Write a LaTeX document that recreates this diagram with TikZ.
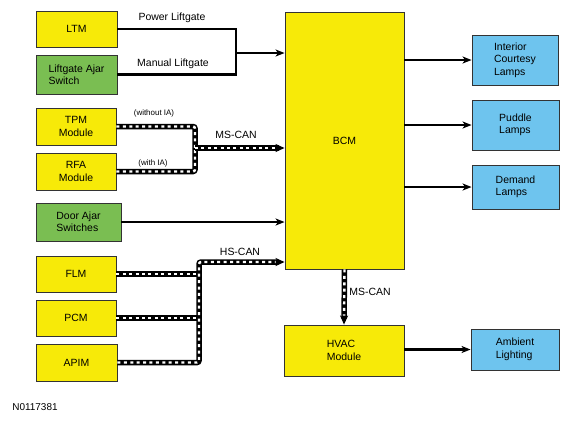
\documentclass[tikz,border=0pt]{standalone}
\usepackage{fontspec}
\setmainfont{Liberation Sans}
\usetikzlibrary{arrows.meta}
\definecolor{ecuyellow}{RGB}{247,234,8}
\definecolor{swgreen}{RGB}{122,190,82}
\definecolor{lampblue}{RGB}{110,196,238}
\tikzset{
  box/.style={draw=black!80, line width=0.9bp, inner sep=0pt, align=left,
    font=\fontsize{10.5}{12.5}\selectfont},
  ecu/.style={box, fill=ecuyellow},
  sw/.style={box, fill=swgreen},
  lamp/.style={box, fill=lampblue},
  wire/.style={line width=2.5bp, -{Stealth[length=9bp,width=7bp,inset=2.5bp]}},
  canbus/.style={line width=5.5bp, rounded corners=2bp,
    postaction={draw=white, line width=2.4bp, arrows=-, dash pattern=on 3bp off 3.4bp, shorten >=#1}},
  canbus/.default=0bp,
  lbl/.style={font=\fontsize{10.5}{12.5}\selectfont, inner sep=0pt},
  smalllbl/.style={font=\fontsize{8}{9}\selectfont, inner sep=0pt}
}
\begin{document}
\begin{tikzpicture}[x=1bp,y=-1bp]
\useasboundingbox (0,0) rectangle (573,423);
% inputs
\node[ecu, minimum width=81bp, minimum height=36bp] (ltm) at (76.5,29) {LTM};
\node[sw, minimum width=81bp, minimum height=39bp] (lgs) at (76.5,74.5) {Liftgate Ajar\\Switch};
\node[ecu, align=center, minimum width=80bp, minimum height=37bp] (tpm) at (76,126.5) {TPM\\Module};
\node[ecu, align=center, minimum width=80bp, minimum height=37bp] (rfa) at (76,171.5) {RFA\\Module};
\node[sw, minimum width=85bp, minimum height=38bp] (das) at (78.5,222) {Door Ajar\\Switches};
\node[ecu, minimum width=80bp, minimum height=36bp] (flm) at (76,274) {FLM};
\node[ecu, minimum width=80bp, minimum height=36bp] (pcm) at (76,318) {PCM};
\node[ecu, minimum width=81bp, minimum height=37bp] (apim) at (76.5,362.5) {APIM};
% modules
\node[ecu, minimum width=119bp, minimum height=257bp] (bcm) at (344.5,140.5) {BCM};
\node[ecu, minimum width=120bp, minimum height=51bp] (hvac) at (344,350.5) {HVAC\\Module};
% outputs
\node[lamp, minimum width=86bp, minimum height=50bp] (icl) at (515,60) {Interior\\Courtesy\\Lamps};
\node[lamp, minimum width=87bp, minimum height=50bp] (pud) at (515.5,125) {Puddle\\Lamps};
\node[lamp, minimum width=87bp, minimum height=44bp] (dem) at (515.5,187) {Demand\\Lamps};
\node[lamp, minimum width=88bp, minimum height=41bp] (amb) at (515,349.5) {Ambient\\Lighting};

% liftgate
\coordinate (lgj) at (236,53);
\draw[line width=2.5bp] (ltm.east) -| (lgj);
\draw[line width=2.5bp] (lgs.east) -| (lgj);
\draw[wire] (lgj) -- (bcm.west |- lgj);
\node[lbl] (pwr) at (172,18) {Power Liftgate};
\node[lbl] (man) at (173,64) {Manual Liftgate};

% MS-CAN in
\coordinate (msj) at (195,148);
\draw[canbus] (tpm.east) -| (msj);
\draw[canbus] (rfa.east) -| (msj);
\draw[canbus=9bp, -{Stealth[length=9bp,width=8bp,inset=2.5bp]}] (msj) -- (bcm.west |- msj);
\node[smalllbl] (woia) at (154,113) {(without IA)};
\node[smalllbl] (wia) at (153,163) {(with IA)};
\node[lbl] (ms1) at (236,135) {MS-CAN};

% door ajar
\draw[wire] (das.east) -- (bcm.west |- das.east);

% HS-CAN
\coordinate (hsj) at (199,262);
\draw[canbus] (flm.east) -- (flm.east -| hsj);
\draw[canbus] (pcm.east) -- (pcm.east -| hsj);
\draw[canbus=9bp, -{Stealth[length=9bp,width=8bp,inset=2.5bp]}] (apim.east) -| (hsj) -- (bcm.west |- hsj);
\node[lbl] (hs) at (240,252) {HS-CAN};

% BCM to HVAC
\draw[canbus=9bp, -{Stealth[length=9bp,width=8bp,inset=2.5bp]}] (bcm.south) -- (hvac.north);
\node[lbl] (ms2) at (370,292) {MS-CAN};

% lamps
\draw[wire] (bcm.east |- icl.west) -- (icl.west);
\draw[wire] (bcm.east |- pud.west) -- (pud.west);
\draw[wire] (bcm.east |- dem.west) -- (dem.west);
\draw[wire] (hvac.east |- amb.west) -- (amb.west);

\node[lbl, font=\fontsize{10}{12}\selectfont] (fig) at (35,407) {N0117381};
\end{tikzpicture}
\end{document}
